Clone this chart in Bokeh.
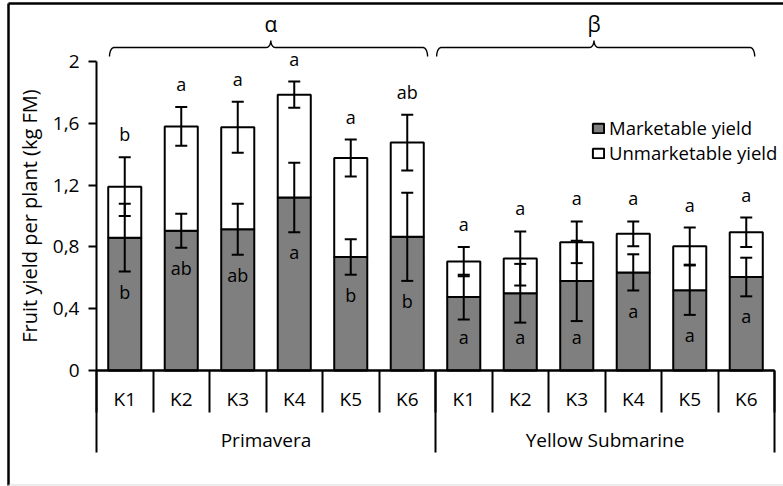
import numpy as np
from bokeh.plotting import figure
from bokeh.models import (Range1d, LinearAxis, FixedTicker, CustomJSTickFormatter,
                          ColumnDataSource, Whisker, TeeHead, Legend, LegendItem)
from bokeh.core.properties import value
from bokeh.embed import file_html
from bokeh.resources import INLINE

# ---------------- data ----------------
cultivars = ["Primavera", "Yellow Submarine"]
treatments = ["K1", "K2", "K3", "K4", "K5", "K6"]
group_labels = ["α", "β"]

marketable = [0.86, 0.905, 0.915, 1.12, 0.735, 0.865,
              0.475, 0.50, 0.58, 0.635, 0.52, 0.605]
unmarketable = [0.33, 0.675, 0.66, 0.665, 0.64, 0.61,
                0.23, 0.225, 0.25, 0.25, 0.285, 0.29]
marketable_err = [0.22, 0.11, 0.165, 0.225, 0.115, 0.285,
                  0.145, 0.19, 0.26, 0.117, 0.16, 0.125]
total_err = [0.19, 0.125, 0.165, 0.085, 0.12, 0.18,
             0.095, 0.175, 0.135, 0.08, 0.12, 0.095]
total_letters = ["b", "a", "a", "a", "a", "ab",
                 "a", "a", "a", "a", "a", "a"]
marketable_letters = ["b", "ab", "ab", "a", "b", "b",
                      "a", "a", "a", "a", "a", "a"]
y_ticks = [0, 0.4, 0.8, 1.2, 1.6, 2.0]

# ---------------- layout helpers (pixels -> data) ----------------
W, H = 783, 486
AX_X, AX_END_X = 96, 774          # pixel of category boundary 0 and 12
Y0_PX, Y2_PX = 370, 61            # pixel of value 0 and value 2
n = len(cultivars) * len(treatments)
k = len(treatments)
ux = (AX_END_X - AX_X) / n
uy = (Y0_PX - Y2_PX) / 2.0


def px2x(px):
    return (px - AX_X) / ux


def px2y(py):
    return (Y0_PX - py) / uy


FONT = "Open Sans"

p = figure(width=W, height=H, output_backend="svg", toolbar_location=None,
           x_range=Range1d(px2x(0), px2x(W)), y_range=Range1d(px2y(H), px2y(0)),
           x_axis_type=None, y_axis_type=None, min_border=0,
           outline_line_color=None, background_fill_color="white",
           border_fill_color="white")

xs = [i + 0.5 for i in range(n)]
mk = np.array(marketable)
um = np.array(unmarketable)
tot = mk + um
mk_e = np.array(marketable_err)
tot_e = np.array(total_err)

src = ColumnDataSource(dict(
    x=xs, marketable=marketable, unmarketable=unmarketable,
    mk_hi=mk + mk_e, mk_lo=mk - mk_e, tot_hi=tot + tot_e, tot_lo=tot - tot_e,
    top_y=tot + tot_e + 23 / uy,
    bot_y=np.maximum(mk - mk_e - 0.13, 0.22),
    top_txt=total_letters, bot_txt=marketable_letters,
))

# ---------------- outer chart border ----------------
p.line([px2x(8), px2x(8)], [px2y(3), px2y(485)], line_color="black", line_width=2.5)
p.line([px2x(8), px2x(W)], [px2y(3), px2y(3)], line_color="black", line_width=2.5)
p.line([px2x(8), px2x(W)], [px2y(484.5), px2y(484.5)], line_color="#d9d9d9", line_width=1)

# ---------------- bars ----------------
rs = p.vbar_stack(["marketable", "unmarketable"], x="x", width=0.585, source=src,
                  fill_color=["#7f7f7f", "white"], line_color="black", line_width=2)

for lo, hi in (("mk_lo", "mk_hi"), ("tot_lo", "tot_hi")):
    p.add_layout(Whisker(source=src, base="x", lower=lo, upper=hi, dimension="height",
                         level="overlay", line_color="black", line_width=2,
                         upper_head=TeeHead(size=12, line_width=2, line_color="black"),
                         lower_head=TeeHead(size=12, line_width=2, line_color="black")))

p.text(x="x", y="top_y", text="top_txt", source=src, text_align="center",
       text_baseline="middle", text_font=value(FONT), text_font_size="18px",
       text_color="black")
p.text(x="x", y="bot_y", text="bot_txt", source=src, text_align="center",
       text_baseline="middle", text_font=value(FONT), text_font_size="18px",
       text_color="black")

# ---------------- braces with α / β ----------------
brace_insets = [(0.23, 0.14), (0.02, 0.35)]
tip_shift = [0.04, -0.03]
y_line, y_end, y_tip = px2y(47), px2y(56), px2y(40)
dx = 4.5 / ux
bx, by = [], []
lx, ly = [], []
for g, (il, ir) in enumerate(brace_insets):
    s = g * k + il
    e = (g + 1) * k - ir
    m = (s + e) / 2 + tip_shift[g]
    t1 = np.linspace(np.pi, np.pi / 2, 8)
    t2 = np.linspace(-np.pi / 2, 0, 8)
    t3 = np.linspace(np.pi, 3 * np.pi / 2, 8)
    t4 = np.linspace(np.pi / 2, 0, 8)
    px_ = list(s + dx + dx * np.cos(t1)) + list(m - dx + dx * np.cos(t2)) + \
        list(m + dx + dx * np.cos(t3)) + list(e - dx + dx * np.cos(t4))
    py_ = list(y_end + (y_line - y_end) * np.sin(t1)) + \
        list(y_tip + (y_tip - y_line) * np.sin(t2)) + \
        list(y_tip + (y_tip - y_line) * np.sin(t3)) + \
        list(y_end + (y_line - y_end) * np.sin(t4))
    bx.append(px_)
    by.append(py_)
    lx.append(m)
    ly.append(px2y(23.5))
p.multi_line(bx, by, line_color="black", line_width=1.4)
p.text(x=lx, y=ly, text=group_labels, text_align="center", text_baseline="middle",
       text_font=value(FONT), text_font_size="21px", text_color="black")

# ---------------- axes ----------------
yaxis = LinearAxis(fixed_location=0, bounds=(0, 2),
                   ticker=FixedTicker(ticks=y_ticks),
                   formatter=CustomJSTickFormatter(
                       code="var s=(Math.round(tick*10)/10).toString(); return s.replace('.', ',');"),
                   axis_line_width=2, axis_line_color="black",
                   major_tick_out=8, major_tick_in=0, major_tick_line_width=2,
                   minor_tick_line_color=None,
                   major_label_text_font=FONT, major_label_text_font_size="19px",
                   major_label_text_color="black", major_label_standoff=9,
                   axis_label="Fruit yield per plant (kg FM)",
                   axis_label_text_font=FONT, axis_label_text_font_size="20px",
                   axis_label_text_font_style="normal", axis_label_text_color="black",
                   axis_label_standoff=7)
p.add_layout(yaxis, "left")

no_label = CustomJSTickFormatter(code="return '';")

# short separators between treatments
sep_axis = LinearAxis(fixed_location=0, bounds=(0, n),
                      ticker=FixedTicker(ticks=list(range(n + 1))), formatter=no_label,
                      axis_line_width=2, axis_line_color="black",
                      major_tick_in=0, major_tick_out=42, major_tick_line_width=2,
                      major_tick_line_color="black", minor_tick_line_color=None,
                      major_label_text_font_size="1px")
p.add_layout(sep_axis, "below")

# long separators between cultivars
gsep_axis = LinearAxis(fixed_location=0, bounds=(0, n),
                       ticker=FixedTicker(ticks=[k * g for g in range(len(cultivars) + 1)]),
                       formatter=no_label,
                       axis_line_width=2, axis_line_color="black",
                       major_tick_in=0, major_tick_out=82, major_tick_line_width=2,
                       major_tick_line_color="black", minor_tick_line_color=None,
                       major_label_text_font_size="1px")
p.add_layout(gsep_axis, "below")

k_axis = LinearAxis(fixed_location=0, bounds=(0, n),
                    ticker=FixedTicker(ticks=xs),
                    formatter=CustomJSTickFormatter(args=dict(labels=treatments * 2),
                                                    code="return labels[Math.floor(tick)];"),
                    axis_line_color=None,
                    major_tick_line_color=None, major_tick_in=0, major_tick_out=0,
                    minor_tick_line_color=None,
                    major_label_text_font=FONT, major_label_text_font_size="19px",
                    major_label_text_color="black", major_label_standoff=15)
p.add_layout(k_axis, "below")

g_axis = LinearAxis(fixed_location=0, bounds=(0, n),
                    ticker=FixedTicker(ticks=[k * (g + 0.5) for g in range(len(cultivars))]),
                    formatter=CustomJSTickFormatter(args=dict(labels=cultivars, k=k),
                                                    code="return labels[Math.floor(tick / k)];"),
                    axis_line_color=None,
                    major_tick_line_color=None, major_tick_in=0, major_tick_out=0,
                    minor_tick_line_color=None,
                    major_label_text_font=FONT, major_label_text_font_size="19px",
                    major_label_text_color="black", major_label_standoff=56)
p.add_layout(g_axis, "below")

# ---------------- legend ----------------
legend = Legend(items=[LegendItem(label="Marketable yield", renderers=[rs[0]]),
                       LegendItem(label="Unmarketable yield", renderers=[rs[1]])],
                location=(591, H - 165), orientation="vertical",
                padding=0, margin=0, spacing=0, label_standoff=4,
                glyph_width=14, glyph_height=12, label_height=23,
                label_text_font=FONT, label_text_font_size="18.5px",
                label_text_color="black", border_line_color=None,
                background_fill_alpha=0)
p.add_layout(legend)

open("out.html", "w").write(file_html(p, INLINE))
